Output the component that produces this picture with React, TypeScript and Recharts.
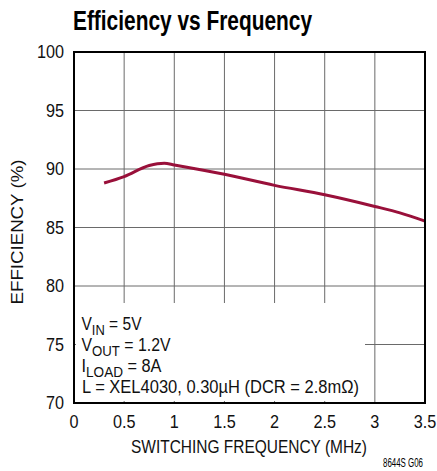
import { LineChart, Line, XAxis, YAxis, CartesianGrid } from 'recharts';

const frequency = [0.3, 0.5, 0.75, 0.9, 1.0, 1.5, 2.0, 2.5, 3.0, 3.25, 3.5];
const efficiency = [88.8, 89.35, 90.3, 90.5, 90.35, 89.55, 88.6, 87.8, 86.8, 86.25, 85.55];
const xTicks = [0, 0.5, 1, 1.5, 2, 2.5, 3, 3.5];
const yTicks = [70, 75, 80, 85, 90, 95, 100];

const data = frequency.map((f, i) => ({ f, eff: efficiency[i] }));

const FONT = '"Liberation Sans", Arial, sans-serif';

// narrow-looking tick labels: squeeze the Arial-like font horizontally
function NarrowTick(props: any) {
  const { x, y, payload, textAnchor, vertical } = props;
  return (
    <g transform={`translate(${x},${y}) scale(0.9,1)`}>
      <text
        x={0}
        y={0}
        dy={vertical ? '0.355em' : '0.71em'}
        textAnchor={textAnchor}
        fontSize={18}
        fill="#111"
        fontFamily={FONT}
      >
        {payload.value}
      </text>
    </g>
  );
}

export default function App() {
  return (
    <div style={{ position: 'absolute', left: 0, top: 0, width: 437, height: 471, background: '#fff', fontFamily: FONT }}>
      <LineChart width={437} height={471} data={data} margin={{ top: 52, right: 12, bottom: 0, left: 0 }}>
        <CartesianGrid stroke="#6a6a6a" strokeWidth={1} />
        <XAxis
          dataKey="f"
          type="number"
          domain={[0, 3.5]}
          ticks={xTicks}
          axisLine={false}
          tickLine={false}
          tickSize={0}
          tickMargin={12}
          height={68}
          interval={0}
          tick={<NarrowTick />}
        />
        <YAxis
          type="number"
          domain={[70, 100]}
          ticks={yTicks}
          axisLine={false}
          tickLine={false}
          tickSize={0}
          tickMargin={10}
          width={74}
          interval={0}
          tick={<NarrowTick vertical />}
        />
        <Line
          dataKey="eff"
          type="monotone"
          stroke="#99103a"
          strokeWidth={3}
          dot={false}
          isAnimationActive={false}
        />
      </LineChart>
      <svg width={437} height={471} style={{ position: 'absolute', left: 0, top: 0, pointerEvents: 'none' }}>
        <rect x={76} y={303} width={289} height={98} fill="#fff" />
        <rect x={74} y={52} width={351} height={351} fill="none" stroke="#000" strokeWidth={2} />
        <text x={73} y={30} fontSize={27} fontWeight="bold" fill="#000" textLength={239} lengthAdjust="spacingAndGlyphs">Efficiency vs Frequency</text>
        <text x={23} y={232} transform="rotate(-90 23 232)" textAnchor="middle" fontSize={17} fill="#111" textLength={145} lengthAdjust="spacingAndGlyphs">EFFICIENCY (%)</text>
        <text x={131} y={453} fontSize={19} fill="#111" textLength={236} lengthAdjust="spacingAndGlyphs">SWITCHING FREQUENCY (MHz)</text>
        <text x={383} y={467} fontSize={12} fill="#000" textLength={40} lengthAdjust="spacingAndGlyphs">8644S G06</text>
        <g fontSize={18} fill="#111">
          <text x={81.5} y={330} textLength={60} lengthAdjust="spacingAndGlyphs">V<tspan fontSize={15} dy={5}>IN</tspan><tspan dy={-5}> = 5V</tspan></text>
          <text x={81.5} y={351} textLength={89} lengthAdjust="spacingAndGlyphs">V<tspan fontSize={15} dy={5}>OUT</tspan><tspan dy={-5}> = 1.2V</tspan></text>
          <text x={81.5} y={372} textLength={80} lengthAdjust="spacingAndGlyphs">I<tspan fontSize={15} dy={5}>LOAD</tspan><tspan dy={-5}> = 8A</tspan></text>
          <text x={82} y={393} textLength={277} lengthAdjust="spacingAndGlyphs">L = XEL4030, 0.30µH (DCR = 2.8mΩ)</text>
        </g>
      </svg>
    </div>
  );
}
